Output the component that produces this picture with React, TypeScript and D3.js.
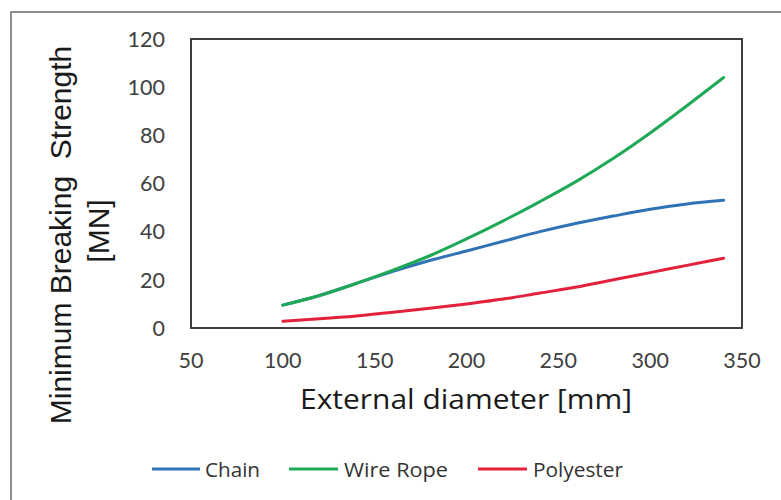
import React from "react";
import * as d3 from "d3";

const diameters = [100, 120, 140, 160, 180, 200, 220, 240, 260, 280, 300, 320, 340];
const chain = [9.5, 13.5, 18.5, 23.5, 28, 32, 36, 40, 43.5, 46.5, 49.3, 51.5, 53];
const wireRope = [9.5, 13.5, 18.5, 24, 30, 37, 44.5, 52.5, 61, 70.5, 81, 92.3, 104];
const polyester = [2.8, 3.8, 5, 6.5, 8.2, 10, 12, 14.5, 17, 20, 23, 26, 29];
const xTicks = [50, 100, 150, 200, 250, 300, 350];
const yTicks = [0, 20, 40, 60, 80, 100, 120];
const seriesNames = ["Chain", "Wire Rope", "Polyester"];
const seriesColors = ["#2F72B5", "#1FA855", "#E3213B"];

export default function App() {
  const W = 781, H = 500;
  const left = 191, right = 742, top = 39, bottom = 328;
  const x = d3.scaleLinear().domain([50, 350]).range([left, right]);
  const y = d3.scaleLinear().domain([0, 120]).range([bottom, top]);
  const allSeries = [chain, wireRope, polyester];
  const line = d3
    .line<[number, number]>()
    .x((d) => x(d[0]))
    .y((d) => y(d[1]))
    .curve(d3.curveMonotoneX);

  const legendItems = [
    { x1: 152, x2: 200, tx: 205, tl: 55 },
    { x1: 289, x2: 338, tx: 344, tl: 104 },
    { x1: 478, x2: 527, tx: 533, tl: 90 },
  ];

  return (
    <svg
      width={W}
      height={H}
      style={{ position: "absolute", left: 0, top: 0, background: "#fff" }}
    >
      <rect x={0} y={0} width={W} height={H} fill="#fff" />
      {/* outer frame */}
      <rect x={11} y={12} width={820} height={600} fill="none" stroke="#6a6a6a" strokeWidth={1.5} />
      {/* plot box */}
      <rect x={left} y={top} width={right - left} height={bottom - top} fill="#fff" stroke="#2a2a2a" strokeWidth={1.8} />
      {/* series */}
      {allSeries.map((vals, i) => (
        <path
          key={seriesNames[i]}
          d={line(diameters.map((d, j) => [d, vals[j]] as [number, number])) || ""}
          fill="none"
          stroke={seriesColors[i]}
          strokeWidth={3}
          strokeLinecap="round"
        />
      ))}
      {/* y ticks */}
      {yTicks.map((t) => (
        <text
          key={"y" + t}
          x={165}
          y={y(t)}
          dy="0.36em"
          textAnchor="end"
          fontFamily="Lato, 'Open Sans', sans-serif"
          fontSize={21.5}
          fill="#404040"
        >
          {t}
        </text>
      ))}
      {/* x ticks */}
      {xTicks.map((t) => (
        <text
          key={"x" + t}
          x={x(t)}
          y={368}
          textAnchor="middle"
          fontFamily="Lato, 'Open Sans', sans-serif"
          fontSize={21.5}
          fill="#404040"
        >
          {t}
        </text>
      ))}
      {/* x title */}
      <text
        x={466}
        y={409}
        textAnchor="middle"
        fontFamily="'Open Sans', Lato, sans-serif"
        fontSize={28}
        fill="#1a1a1a"
        textLength={332}
        lengthAdjust="spacingAndGlyphs"
      >
        External diameter [mm]
      </text>
      {/* y title */}
      <g transform="translate(71,235) rotate(-90)">
        <text
          x={0}
          y={0}
          textAnchor="middle"
          fontFamily="'Liberation Sans', Arial, sans-serif"
          fontSize={30}
          fill="#1a1a1a"
          style={{ whiteSpace: "pre" }}
        >
          {"Minimum Breaking  Strength"}
        </text>
        <text
          x={4}
          y={38}
          textAnchor="middle"
          fontFamily="'Liberation Sans', Arial, sans-serif"
          fontSize={30}
          fill="#1a1a1a"
        >
          [MN]
        </text>
      </g>
      {/* legend */}
      {legendItems.map((it, i) => (
        <g key={"lg" + i}>
          <line x1={it.x1} x2={it.x2} y1={469} y2={469} stroke={seriesColors[i]} strokeWidth={3} />
          <text
            x={it.tx}
            y={477}
            fontFamily="'Open Sans', Lato, sans-serif"
            fontSize={20}
            fill="#333"
            textLength={it.tl}
            lengthAdjust="spacingAndGlyphs"
          >
            {seriesNames[i]}
          </text>
        </g>
      ))}
    </svg>
  );
}
